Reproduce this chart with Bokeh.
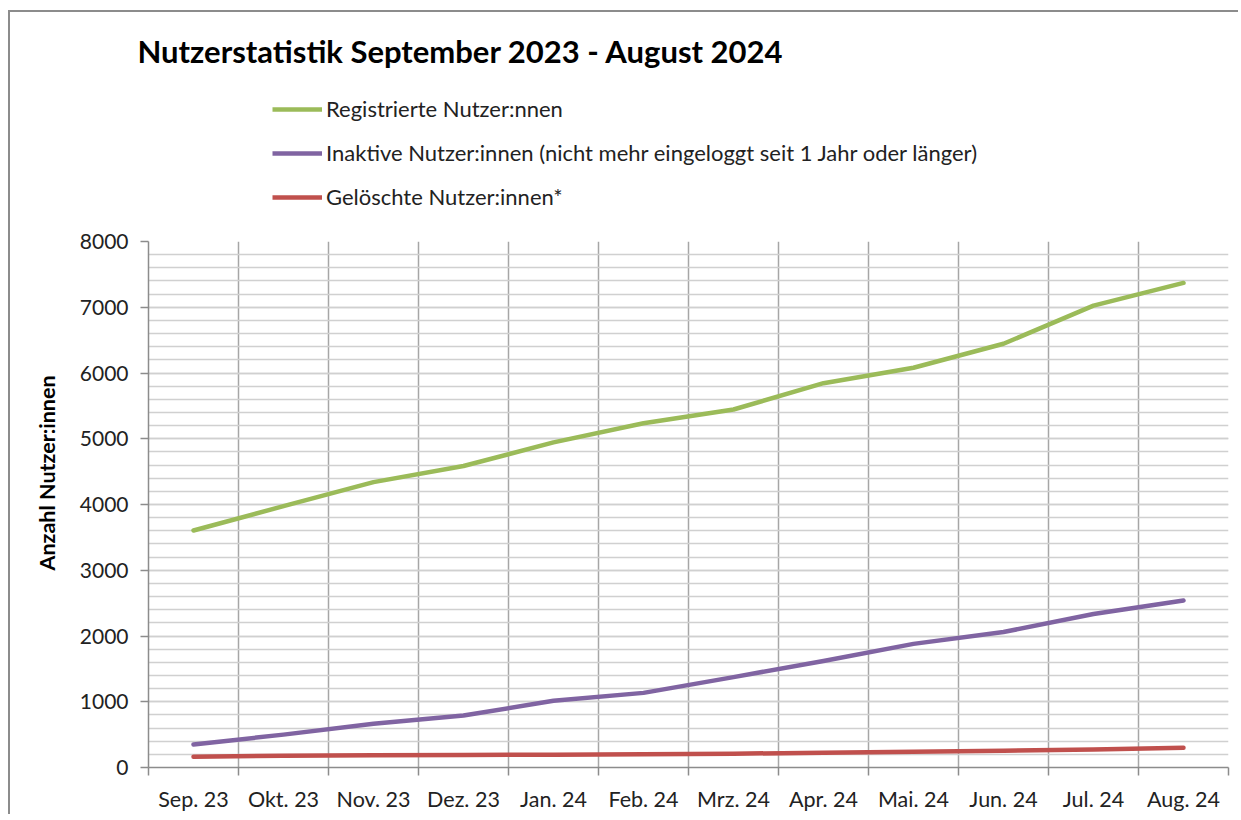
from bokeh.plotting import figure
from bokeh.layouts import column
from bokeh.models import FixedTicker, Legend, LegendItem, ColumnDataSource, Title, Spacer
from bokeh.embed import file_html
from bokeh.resources import INLINE

# ---- data ----
months = ["Sep. 23", "Okt. 23", "Nov. 23", "Dez. 23", "Jan. 24", "Feb. 24",
          "Mrz. 24", "Apr. 24", "Mai. 24", "Jun. 24", "Jul. 24", "Aug. 24"]
registriert = [3605, 3975, 4340, 4585, 4945, 5235, 5445, 5845, 6080, 6445, 7025, 7370]
inaktiv = [350, 500, 665, 790, 1015, 1135, 1375, 1620, 1880, 2060, 2335, 2540]
geloescht = [165, 180, 185, 190, 195, 200, 210, 225, 240, 255, 275, 300]
y_ticks = [0, 1000, 2000, 3000, 4000, 5000, 6000, 7000, 8000]

series_names = ["Registrierte Nutzer:nnen",
                "Inaktive Nutzer:innen (nicht mehr eingeloggt seit 1 Jahr oder länger)",
                "Gelöschte Nutzer:innen*"]
series_colors = ["#9BBB59", "#8064A2", "#C0504D"]

title_text = "Nutzerstatistik September 2023 - August 2024"
y_label = "Anzahl Nutzer:innen"

FONT = "Lato"
W_LEFT, W_FRAME, W_RIGHT = 138, 1080, 10
TOTAL_W = W_LEFT + W_FRAME + W_RIGHT
TOP_GAP = 17
HEADER_H = 210 - TOP_GAP

x_pos = [i + 0.5 for i in range(len(months))]
src = ColumnDataSource(dict(x=x_pos, reg=registriert, ina=inaktiv, gel=geloescht))

# ---------------- header (title + legend) ----------------
h = figure(width=TOTAL_W, height=HEADER_H, x_range=(0, len(months)), y_range=(0, 8000),
           title=title_text,
           output_backend="svg", toolbar_location=None,
           x_axis_type=None, y_axis_type=None,
           min_border=0, min_border_left=0, min_border_right=0,
           min_border_top=0, min_border_bottom=0)
h.grid.visible = False
h.outline_line_color = None
h.background_fill_color = "white"
h.border_fill_color = "white"
h.title.align = "left"
h.title.offset = -11
h.title.standoff = 0
h.title.text_font = FONT
h.title.text_font_style = "bold"
h.title.text_font_size = "31px"
h.title.text_color = "black"

hr = [h.line("x", col, source=src, line_color=c, line_width=4.5, visible=False)
      for col, c in zip(["reg", "ina", "gel"], series_colors)]

legend = Legend(items=[LegendItem(label=n, renderers=[r]) for n, r in zip(series_names, hr)],
                location=(124, 12), orientation="vertical",
                padding=0, margin=0, spacing=17,
                glyph_width=50, glyph_height=22, label_height=22,
                label_standoff=4,
                label_text_font=FONT, label_text_font_size="22px",
                label_text_color="#222222",
                border_line_color=None, background_fill_alpha=0,
                inactive_fill_alpha=0)
h.add_layout(legend, "center")

# ---------------- main chart ----------------
p = figure(frame_width=W_FRAME, frame_height=526,
           x_range=(0, len(months)), y_range=(0, 8000),
           output_backend="svg", toolbar_location=None,
           min_border_left=W_LEFT, min_border_top=19,
           min_border_right=W_RIGHT, min_border_bottom=42)
p.background_fill_color = "white"
p.border_fill_color = "white"
p.outline_line_color = None

xt = FixedTicker(ticks=x_pos, minor_ticks=list(range(len(months) + 1)))
p.xaxis.ticker = xt
p.xgrid.ticker = xt
p.xaxis.major_label_overrides = {xp: m for xp, m in zip(x_pos, months)}
p.xaxis.major_tick_out = 0
p.xaxis.major_tick_in = 0
p.xaxis.minor_tick_out = 8
p.xaxis.minor_tick_in = 0
p.xaxis.minor_tick_line_color = "#8c8c8c"
p.xaxis.minor_tick_line_width = 1.5
p.xaxis.axis_line_color = "#8c8c8c"
p.xaxis.axis_line_width = 1.5
p.xaxis.major_label_standoff = 10
p.xaxis.major_label_text_font = FONT
p.xaxis.major_label_text_font_size = "21.5px"
p.xaxis.major_label_text_color = "#222222"

yt = FixedTicker(ticks=y_ticks, minor_ticks=list(range(0, 8001, 200)))
p.yaxis.ticker = yt
p.ygrid.ticker = yt
p.yaxis.major_tick_out = 8
p.yaxis.major_tick_in = 0
p.yaxis.minor_tick_out = 0
p.yaxis.minor_tick_in = 0
p.yaxis.major_tick_line_color = "#8c8c8c"
p.yaxis.major_tick_line_width = 1.5
p.yaxis.axis_line_color = "#8c8c8c"
p.yaxis.axis_line_width = 1.5
p.yaxis.major_label_standoff = 12
p.yaxis.major_label_text_font = FONT
p.yaxis.major_label_text_font_size = "21px"
p.yaxis.major_label_text_color = "#222222"

p.xgrid.grid_line_color = None
p.xgrid.minor_grid_line_color = "#a6a6a6"
p.xgrid.minor_grid_line_width = 1.5
p.ygrid.grid_line_color = "#d0d0d0"
p.ygrid.grid_line_width = 1.5
p.ygrid.minor_grid_line_color = "#d0d0d0"
p.ygrid.minor_grid_line_width = 1.5

for col, c in zip(["reg", "ina", "gel"], series_colors):
    p.line("x", col, source=src, line_color=c, line_width=4.5,
           line_cap="round", line_join="round")

p.add_layout(Title(text=y_label, align="left", offset=197, standoff=33,
                   text_font=FONT, text_font_style="bold", text_font_size="21.5px",
                   text_color="black"), "left")

layout = column(Spacer(width=TOTAL_W, height=TOP_GAP), h, p, spacing=0)
layout.styles = {"border-left": "2px solid #8c8c8c", "border-top": "2px solid #8c8c8c",
                 "margin-left": "8px", "margin-top": "10px"}

open("out.html", "w").write(file_html(layout, INLINE))
